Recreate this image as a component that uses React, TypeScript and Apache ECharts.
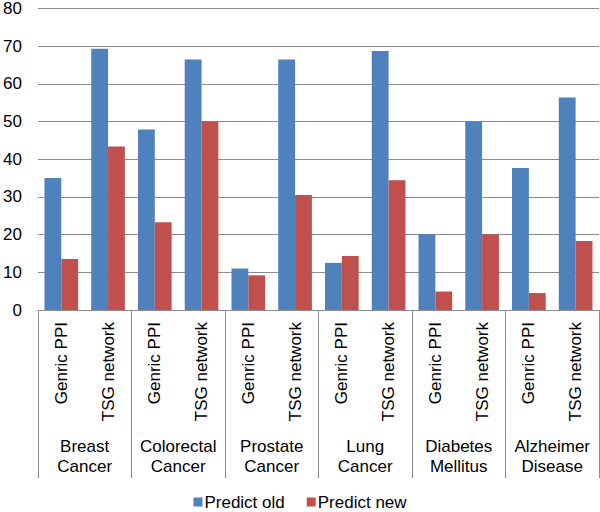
import React, { useEffect, useRef } from "react";
import * as echarts from "echarts";

const subCategories = [
  "Genric PPI", "TSG network",
  "Genric PPI", "TSG network",
  "Genric PPI", "TSG network",
  "Genric PPI", "TSG network",
  "Genric PPI", "TSG network",
  "Genric PPI", "TSG network",
];
const diseases = [
  "Breast\nCancer",
  "Colorectal\nCancer",
  "Prostate\nCancer",
  "Lung\nCancer",
  "Diabetes\nMellitus",
  "Alzheimer\nDisease",
];
const predictOld = [35, 69.3, 47.9, 66.5, 11, 66.5, 12.5, 68.7, 20.1, 50, 37.7, 56.4];
const predictNew = [13.5, 43.4, 23.3, 50, 9.2, 30.5, 14.3, 34.4, 4.9, 20.1, 4.5, 18.3];
const yTicks = { min: 0, max: 80, interval: 10 };

const FONT = "'Liberation Sans', Arial, sans-serif";

export default function App() {
  const ref = useRef<HTMLDivElement>(null);
  useEffect(() => {
    if (!ref.current) return;
    const chart = echarts.init(ref.current, undefined, { renderer: "svg" });
    chart.setOption({
      animation: false,
      backgroundColor: "#fff",
      textStyle: { fontFamily: FONT, color: "#000" },
      grid: { left: 36, right: 1, top: 8, bottom: 202, containLabel: false },
      legend: {
        top: 493,
        left: "center",
        padding: 0,
        itemWidth: 9,
        itemHeight: 9,
        itemGap: 22,
        icon: "rect",
        textStyle: {
          fontSize: 17,
          lineHeight: 18,
          color: "#000",
          fontFamily: FONT,
          padding: [0, 0, 0, -3],
        },
        data: ["Predict old", "Predict new"],
      },
      xAxis: [
        {
          type: "category",
          data: subCategories,
          position: "bottom",
          axisLine: { show: true, lineStyle: { color: "#8c8c8c", width: 1 } },
          axisTick: { show: false },
          axisLabel: {
            rotate: 90,
            margin: 12,
            fontSize: 17,
            color: "#000",
            fontFamily: FONT,
            interval: 0,
          },
        },
        {
          type: "category",
          data: diseases,
          position: "bottom",
          axisLine: { show: false },
          axisTick: {
            show: true,
            length: 168,
            lineStyle: { color: "#8c8c8c", width: 1 },
          },
          axisLabel: {
            margin: 126,
            fontSize: 17,
            lineHeight: 20,
            color: "#000",
            fontFamily: FONT,
            interval: 0,
          },
        },
      ],
      yAxis: {
        type: "value",
        min: yTicks.min,
        max: yTicks.max,
        interval: yTicks.interval,
        axisLine: { show: false },
        axisTick: { show: false },
        splitLine: { lineStyle: { color: "#8c8c8c", width: 1 } },
        axisLabel: { fontSize: 17, color: "#000", margin: 16, fontFamily: FONT },
      },
      series: [
        {
          name: "Predict old",
          type: "bar",
          data: predictOld,
          itemStyle: { color: "#4F81BD" },
          barGap: "0%",
          barCategoryGap: "28%",
        },
        {
          name: "Predict new",
          type: "bar",
          data: predictNew,
          itemStyle: { color: "#C0504D" },
          barGap: "0%",
          barCategoryGap: "28%",
        },
      ],
    });
    return () => chart.dispose();
  }, []);
  return (
    <div
      ref={ref}
      style={{ position: "fixed", left: 0, top: 0, width: 600, height: 512 }}
    />
  );
}
